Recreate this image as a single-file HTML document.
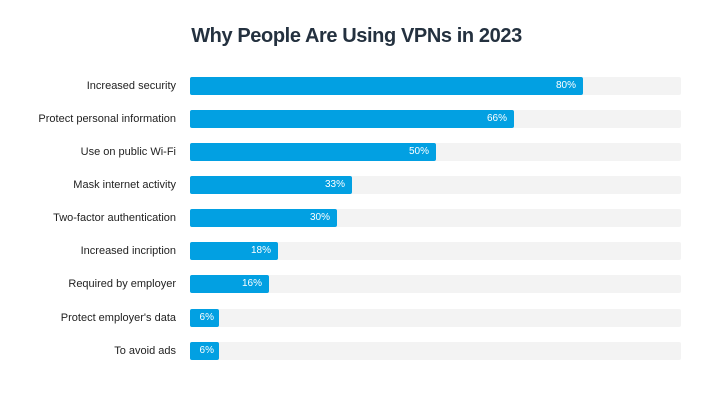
<!DOCTYPE html>
<html><head><style>
body{margin:0;width:713px;height:401px;background:#fff;font-family:"Liberation Sans",sans-serif;position:relative;overflow:hidden}
h1{position:absolute;top:25px;left:0;width:713px;text-align:center;margin:0;font-size:20px;font-weight:bold;color:#24313f;letter-spacing:-0.4px}
.lab{position:absolute;right:537px;font-size:11px;color:#222;line-height:18px;white-space:nowrap}
.tr{position:absolute;left:190px;width:491px;height:18px;background:#f3f3f3;border-radius:2px}
.b{position:absolute;left:0;top:0;height:18px;background:#02a0e2;border-radius:2px;color:#fff;font-size:10px;line-height:18px;text-align:right;box-sizing:border-box;padding-right:7px}
</style></head><body>
<h1>Why People Are Using VPNs in 2023</h1>
<div class="lab" style="top:77px">Increased security</div><div class="tr" style="top:77px"><div class="b" style="width:393px">80%</div></div>
<div class="lab" style="top:110px">Protect personal information</div><div class="tr" style="top:110px"><div class="b" style="width:324px">66%</div></div>
<div class="lab" style="top:143px">Use on public Wi-Fi</div><div class="tr" style="top:143px"><div class="b" style="width:246px">50%</div></div>
<div class="lab" style="top:176px">Mask internet activity</div><div class="tr" style="top:176px"><div class="b" style="width:162px">33%</div></div>
<div class="lab" style="top:209px">Two-factor authentication</div><div class="tr" style="top:209px"><div class="b" style="width:147px">30%</div></div>
<div class="lab" style="top:242px">Increased incription</div><div class="tr" style="top:242px"><div class="b" style="width:88px">18%</div></div>
<div class="lab" style="top:275px">Required by employer</div><div class="tr" style="top:275px"><div class="b" style="width:79px">16%</div></div>
<div class="lab" style="top:309px">Protect employer's data</div><div class="tr" style="top:309px"><div class="b" style="width:29px;padding-right:5px">6%</div></div>
<div class="lab" style="top:342px">To avoid ads</div><div class="tr" style="top:342px"><div class="b" style="width:29px;padding-right:5px">6%</div></div>
</body></html>
